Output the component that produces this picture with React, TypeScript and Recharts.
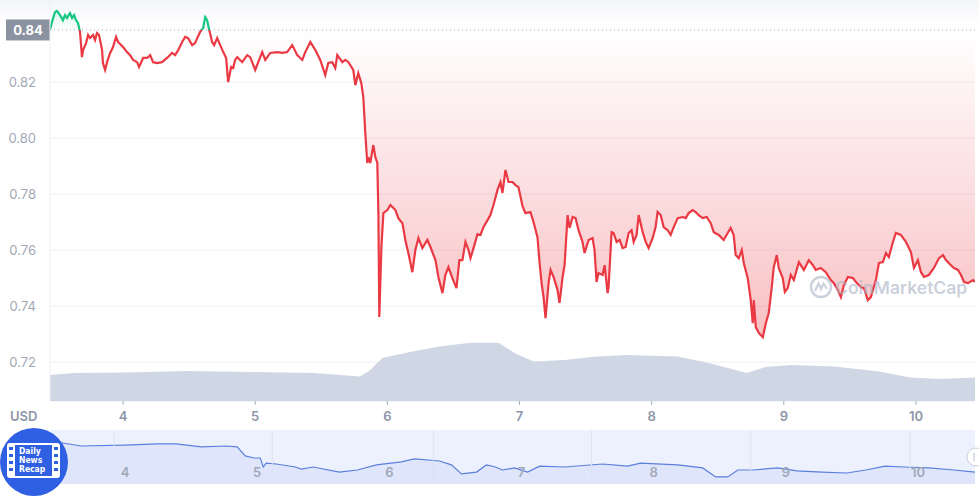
import React from 'react';
import { ComposedChart, Area, XAxis, YAxis, CartesianGrid, ReferenceLine } from 'recharts';

// [day, price USD]
const pricePoints: [number, number][] = [
  [3.447, 0.8386], [3.462, 0.8414], [3.485, 0.845], [3.5, 0.8454], [3.523, 0.8439], [3.545, 0.8421],
  [3.561, 0.8439], [3.576, 0.8429], [3.598, 0.8446], [3.614, 0.8429], [3.629, 0.8439], [3.644, 0.8421],
  [3.659, 0.8411], [3.674, 0.8379], [3.689, 0.8289], [3.697, 0.8314], [3.72, 0.8339], [3.735, 0.8368],
  [3.75, 0.8357], [3.773, 0.8368], [3.788, 0.835], [3.803, 0.8375], [3.818, 0.8368], [3.841, 0.8314],
  [3.848, 0.8268], [3.864, 0.8243], [3.879, 0.8271], [3.902, 0.8304], [3.924, 0.8325], [3.947, 0.8361],
  [3.962, 0.8343], [3.985, 0.8332], [4.0, 0.8325], [4.03, 0.8307], [4.053, 0.8296], [4.076, 0.8279],
  [4.106, 0.8271], [4.121, 0.8254], [4.152, 0.8286], [4.182, 0.8286], [4.205, 0.8296], [4.227, 0.8271],
  [4.258, 0.8268], [4.295, 0.8271], [4.333, 0.8286], [4.371, 0.8304], [4.394, 0.8296], [4.417, 0.8314],
  [4.447, 0.8343], [4.47, 0.8361], [4.492, 0.8357], [4.523, 0.8332], [4.545, 0.8339], [4.561, 0.8357],
  [4.583, 0.8379], [4.606, 0.8393], [4.621, 0.8432], [4.636, 0.8421], [4.652, 0.8386], [4.674, 0.8343],
  [4.689, 0.8332], [4.712, 0.8357], [4.735, 0.8332], [4.758, 0.8307], [4.78, 0.8286], [4.795, 0.82],
  [4.818, 0.8254], [4.833, 0.825], [4.848, 0.8279], [4.864, 0.8289], [4.902, 0.8271], [4.939, 0.8296],
  [4.962, 0.8289], [5.0, 0.8243], [5.038, 0.8289], [5.053, 0.8307], [5.076, 0.8279], [5.114, 0.8304],
  [5.167, 0.8307], [5.205, 0.8304], [5.242, 0.8307], [5.28, 0.8332], [5.318, 0.8296], [5.356, 0.8279],
  [5.379, 0.8307], [5.417, 0.8343], [5.455, 0.8314], [5.492, 0.8279], [5.53, 0.8225], [5.553, 0.8268],
  [5.583, 0.8271], [5.606, 0.825], [5.621, 0.8296], [5.659, 0.8271], [5.682, 0.8279], [5.705, 0.8271],
  [5.742, 0.8243], [5.758, 0.8189], [5.78, 0.8232], [5.803, 0.8196], [5.818, 0.8146], [5.833, 0.8018],
  [5.848, 0.7911], [5.856, 0.7932], [5.871, 0.7911], [5.894, 0.7975], [5.909, 0.7932], [5.924, 0.7911],
  [5.932, 0.7732], [5.939, 0.7361], [5.955, 0.7611], [5.97, 0.7732], [6.0, 0.7743], [6.023, 0.7761],
  [6.061, 0.7743], [6.083, 0.7714], [6.114, 0.7696], [6.136, 0.7636], [6.159, 0.7589], [6.189, 0.7521],
  [6.212, 0.76], [6.235, 0.7643], [6.265, 0.7607], [6.303, 0.7636], [6.326, 0.7611], [6.364, 0.7564],
  [6.386, 0.7504], [6.417, 0.7446], [6.439, 0.7511], [6.462, 0.7539], [6.492, 0.75], [6.523, 0.7464],
  [6.545, 0.7564], [6.568, 0.7564], [6.591, 0.7629], [6.614, 0.76], [6.629, 0.7571], [6.652, 0.7607],
  [6.682, 0.7657], [6.705, 0.7654], [6.727, 0.7682], [6.758, 0.7707], [6.78, 0.7725], [6.803, 0.7761],
  [6.833, 0.7814], [6.856, 0.7843], [6.871, 0.7804], [6.894, 0.7886], [6.917, 0.7843], [6.947, 0.7843],
  [6.97, 0.7832], [6.992, 0.7825], [7.023, 0.7757], [7.045, 0.7732], [7.083, 0.7736], [7.106, 0.77],
  [7.136, 0.7646], [7.152, 0.7554], [7.167, 0.7482], [7.182, 0.7432], [7.197, 0.7357], [7.22, 0.7482],
  [7.235, 0.7529], [7.258, 0.7504], [7.288, 0.7457], [7.303, 0.7411], [7.326, 0.7504], [7.341, 0.7546],
  [7.364, 0.7725], [7.379, 0.7679], [7.402, 0.7718], [7.424, 0.7714], [7.447, 0.7671], [7.477, 0.7629],
  [7.492, 0.7589], [7.523, 0.7636], [7.553, 0.7643], [7.568, 0.76], [7.583, 0.7486], [7.598, 0.7518],
  [7.629, 0.7511], [7.644, 0.7546], [7.667, 0.7446], [7.674, 0.7468], [7.697, 0.7664], [7.712, 0.7661],
  [7.735, 0.7629], [7.758, 0.7636], [7.78, 0.7607], [7.803, 0.7611], [7.826, 0.7661], [7.848, 0.7671],
  [7.864, 0.7629], [7.886, 0.7654], [7.902, 0.7725], [7.932, 0.7664], [7.955, 0.7629], [7.977, 0.7607],
  [8.008, 0.7643], [8.03, 0.7682], [8.045, 0.7736], [8.068, 0.7725], [8.091, 0.7682], [8.121, 0.7671],
  [8.144, 0.7654], [8.167, 0.7682], [8.197, 0.7714], [8.235, 0.7718], [8.258, 0.7714], [8.28, 0.7732],
  [8.311, 0.7743], [8.333, 0.7736], [8.356, 0.7725], [8.386, 0.7714], [8.417, 0.7718], [8.447, 0.7696],
  [8.47, 0.7664], [8.508, 0.7654], [8.545, 0.7636], [8.576, 0.7661], [8.598, 0.7679], [8.621, 0.7654],
  [8.636, 0.7582], [8.659, 0.7571], [8.682, 0.76], [8.697, 0.7554], [8.727, 0.75], [8.75, 0.7421],
  [8.765, 0.7339], [8.773, 0.7421], [8.788, 0.7325], [8.811, 0.7304], [8.841, 0.7289], [8.864, 0.7339],
  [8.886, 0.7375], [8.909, 0.7468], [8.924, 0.7539], [8.947, 0.7582], [8.962, 0.7536], [8.992, 0.75],
  [9.008, 0.745], [9.03, 0.7464], [9.053, 0.7511], [9.076, 0.7493], [9.114, 0.7557], [9.152, 0.7529],
  [9.189, 0.7564], [9.22, 0.7546], [9.242, 0.7529], [9.28, 0.7536], [9.318, 0.7521], [9.356, 0.7493],
  [9.379, 0.7482], [9.409, 0.7457], [9.432, 0.7432], [9.455, 0.7475], [9.485, 0.7504], [9.523, 0.75],
  [9.553, 0.7482], [9.583, 0.7468], [9.606, 0.7464], [9.636, 0.7421], [9.659, 0.7432], [9.674, 0.7457],
  [9.697, 0.7493], [9.72, 0.7554], [9.75, 0.7557], [9.773, 0.7589], [9.795, 0.7575], [9.826, 0.7629],
  [9.848, 0.7661], [9.886, 0.7654], [9.924, 0.7629], [9.962, 0.7593], [9.985, 0.7536], [10.015, 0.7564],
  [10.038, 0.7521], [10.061, 0.7504], [10.098, 0.7511], [10.136, 0.7536], [10.174, 0.7571], [10.205, 0.7582],
  [10.227, 0.7564], [10.265, 0.7546], [10.288, 0.7536], [10.318, 0.7529], [10.341, 0.7511], [10.364, 0.7486],
  [10.394, 0.7482], [10.432, 0.7493], [10.447, 0.7486],
];

// [day, volume in billions USD]
const volumePoints: [number, number][] = [
  [3.447, 0.78], [3.636, 0.84], [4.015, 0.85], [4.492, 0.9], [4.97, 0.87], [5.439, 0.84],
  [5.795, 0.73], [5.871, 0.93], [5.962, 1.29], [6.152, 1.45], [6.394, 1.63], [6.629, 1.74],
  [6.841, 1.74], [6.962, 1.44], [7.106, 1.18], [7.341, 1.23], [7.583, 1.33], [7.818, 1.38],
  [8.197, 1.33], [8.432, 1.14], [8.72, 0.84], [8.864, 1.02], [9.053, 1.08], [9.386, 1.03],
  [9.72, 0.88], [9.955, 0.7], [10.189, 0.66], [10.447, 0.7],
];

// navigator overview [day, price]
const navPoints: [number, number][] = [
  [3.447, 0.84], [3.545, 0.84], [3.682, 0.83], [4.015, 0.833], [4.258, 0.837], [4.402, 0.837],
  [4.591, 0.827], [4.78, 0.83], [4.864, 0.827], [4.924, 0.797], [4.992, 0.79], [5.038, 0.79],
  [5.061, 0.76], [5.083, 0.773], [5.159, 0.77], [5.303, 0.76], [5.348, 0.753], [5.439, 0.76],
  [5.636, 0.743], [5.773, 0.75], [5.917, 0.767], [6.106, 0.777], [6.205, 0.787], [6.394, 0.78],
  [6.485, 0.767], [6.561, 0.737], [6.674, 0.743], [6.75, 0.767], [6.818, 0.76], [6.871, 0.75],
  [6.962, 0.757], [7.061, 0.743], [7.152, 0.763], [7.341, 0.76], [7.629, 0.77], [7.818, 0.763],
  [7.917, 0.773], [8.197, 0.767], [8.386, 0.757], [8.485, 0.727], [8.576, 0.727], [8.652, 0.75],
  [8.765, 0.75], [8.955, 0.757], [9.098, 0.747], [9.288, 0.743], [9.477, 0.74], [9.621, 0.75],
  [9.765, 0.763], [9.909, 0.76], [10.098, 0.757], [10.288, 0.75], [10.447, 0.743],
];

const openPrice = 0.8386;
const dayTicks = [4, 5, 6, 7, 8, 9, 10];
const priceTicks = [0.72, 0.74, 0.76, 0.78, 0.8, 0.82];
const navGridDays = [3.932, 5.129, 6.348, 7.545, 8.75, 9.955];

const priceData = pricePoints.map(([t, p]) => ({ t, p }));
const volumeData = volumePoints.map(([t, v]) => ({ t, v }));
const navData = navPoints.map(([t, p]) => ({ t, p }));

const pMax = Math.max(...pricePoints.map((d) => d[1]));
const pMin = Math.min(...pricePoints.map((d) => d[1]));
const splitOff = (pMax - openPrice) / (pMax - pMin);

const FONT = 'Inter, "Noto Sans", sans-serif';

const PriceTag = (props: any) => {
  const vb = props.viewBox || {};
  const y = vb.y ?? 0;
  return (
    <g>
      <rect x={6} y={y - 10.5} width={44} height={21} fill="#8b93a1" />
      <text x={28} y={y + 5} textAnchor="middle" fill="#ffffff" fontSize={13} fontWeight={700} fontFamily={FONT}>
        {openPrice.toFixed(2)}
      </text>
    </g>
  );
};

const renderNavTick = (props: any) => {
  const { x, payload } = props;
  return (
    <text x={x + 2} y={47} textAnchor="middle" fill="#a0a8b8" fontSize={13} fontWeight={600} fontFamily={FONT}>
      {String(payload.value)}
    </text>
  );
};

export default function App() {
  return (
    <div style={{ position: 'absolute', left: 0, top: 0, width: 979, height: 496, background: '#fff', overflow: 'hidden', fontFamily: FONT }}>
      <div style={{ position: 'absolute', left: 0, top: 0, width: 979, height: 24, background: 'linear-gradient(#f3f5f9, #ffffff)' }} />
      <div style={{ position: 'absolute', left: 0, top: 0 }}>
        <ComposedChart width={979} height={430} margin={{ top: 0, right: 4, bottom: 0, left: 0 }}>
          <defs>
            <linearGradient id="lineGrad" x1="0" y1="0" x2="0" y2="1">
              <stop offset={splitOff} stopColor="#16c784" />
              <stop offset={splitOff} stopColor="#ea3943" />
            </linearGradient>
            <linearGradient id="fillGrad" x1="0" y1="0" x2="0" y2="1">
              <stop offset={0} stopColor="#16c784" stopOpacity={0.12} />
              <stop offset={splitOff} stopColor="#16c784" stopOpacity={0.02} />
              <stop offset={splitOff} stopColor="#ea3943" stopOpacity={0.0} />
              <stop offset={1} stopColor="#ea3943" stopOpacity={0.32} />
            </linearGradient>
          </defs>
          <CartesianGrid horizontal vertical={false} stroke="#eef0f4" />
          <XAxis
            type="number"
            dataKey="t"
            domain={[3.447, 10.447]}
            ticks={dayTicks}
            allowDataOverflow
            height={29}
            axisLine={false}
            tickSize={4}
            tickLine={{ stroke: '#a6afc0' }}
            tickMargin={7}
            tick={{ fontSize: 13, fontWeight: 600, fill: '#8d96a8', fontFamily: FONT }}
          />
          <YAxis
            width={50}
            domain={[0.7061, 0.8493]}
            ticks={priceTicks}
            allowDataOverflow
            tickFormatter={(v: number) => v.toFixed(2)}
            axisLine={{ stroke: '#eef0f4' }}
            tickLine={false}
            tickMargin={8}
            tick={{ fontSize: 13, fill: '#a2a9b6', fontFamily: FONT }}
          />
          <YAxis yAxisId="vol" hide domain={[0, 12]} />
          <Area
            yAxisId="vol"
            data={volumeData}
            dataKey="v"
            type="linear"
            stroke="none"
            fill="#cfd6e4"
            fillOpacity={1}
            isAnimationActive={false}
            dot={false}
            activeDot={false}
          />
          <Area
            data={priceData}
            dataKey="p"
            type="linear"
            baseValue={openPrice}
            stroke="url(#lineGrad)"
            strokeWidth={2.2}
            fill="url(#fillGrad)"
            fillOpacity={1}
            isAnimationActive={false}
            dot={false}
            activeDot={false}
          />
          <ReferenceLine y={openPrice} stroke="#a3a9b5" strokeDasharray="1 3" label={<PriceTag />} />
        </ComposedChart>
      </div>
      <div style={{ position: 'absolute', left: 10, top: 408, fontSize: 13, fontWeight: 600, color: '#8d96a8', fontFamily: FONT }}>USD</div>
      <div style={{ position: 'absolute', left: 0, top: 430 }}>
        <ComposedChart width={979} height={54} margin={{ top: 0, right: 4, bottom: 0, left: 50 }}>
          <CartesianGrid horizontal={false} vertical={false} fill="#edf1fd" />
          {navGridDays.map((d) => (
            <ReferenceLine key={d} x={d} stroke="#dde3f3" />
          ))}
          <YAxis hide domain={[0.7033, 0.8833]} allowDataOverflow />
          <XAxis type="number" dataKey="t" domain={[3.447, 10.447]} allowDataOverflow hide />
          <Area
            data={navData}
            dataKey="p"
            type="linear"
            stroke="#5b7fdc"
            strokeWidth={1.2}
            fill="#dfe6fb"
            fillOpacity={1}
            isAnimationActive={false}
            dot={false}
            activeDot={false}
          />
        </ComposedChart>
      </div>
      <div style={{ position: 'absolute', left: 0, top: 430, pointerEvents: 'none' }}>
        <ComposedChart width={979} height={74} margin={{ top: 0, right: 4, bottom: 0, left: 50 }}>
          <YAxis hide domain={[0.7033, 0.8833]} allowDataOverflow />
          <Area
            data={navData}
            dataKey="p"
            type="linear"
            stroke="none"
            fill="none"
            isAnimationActive={false}
            dot={false}
            activeDot={false}
          />
          <XAxis
            type="number"
            dataKey="t"
            domain={[3.447, 10.447]}
            ticks={dayTicks}
            allowDataOverflow
            height={20}
            axisLine={false}
            tickLine={false}
            tick={renderNavTick}
          />
        </ComposedChart>
      </div>
      <svg width={20} height={30} style={{ position: 'absolute', left: 966, top: 443 }}>
        <circle cx={10} cy={14} r={9} fill="#ffffff" stroke="#c9cfdc" strokeWidth={1} />
        <line x1={8} y1={10} x2={8} y2={18} stroke="#b7bfcf" />
      </svg>
      <div style={{ position: 'absolute', left: 809, top: 275, display: 'flex', alignItems: 'center', opacity: 0.6, pointerEvents: 'none' }}>
        <svg width={24} height={24}>
          <circle cx={12} cy={12} r={10} fill="none" stroke="#aab3c5" strokeWidth={2.3} />
          <path d="M6 16 L9.5 8.5 L12 14 L14.5 8.5 L18 14" fill="none" stroke="#aab3c5" strokeWidth={2} />
        </svg>
        <span style={{ fontSize: 17.5, fontWeight: 600, color: '#aab3c5', marginLeft: 2, fontFamily: FONT, whiteSpace: 'nowrap' }}>CoinMarketCap</span>
      </div>
      <svg width={68} height={68} style={{ position: 'absolute', left: 0, top: 428 }}>
        <circle cx={34} cy={34} r={34} fill="#2f5fe3" />
        <rect x={7} y={15} width={53} height={35} rx={3} fill="#ffffff" />
        <rect x={15} y={17} width={37} height={31} fill="#2f5fe3" />
        {[19, 26, 33, 40].map((yy) => (
          <g key={yy}>
            <rect x={9} y={yy} width={4} height={3} fill="#2f5fe3" />
            <rect x={54} y={yy} width={4} height={3} fill="#2f5fe3" />
          </g>
        ))}
        <text x={19} y={26} fill="#fff" fontSize={8.5} fontWeight={700} fontFamily="'Liberation Sans Narrow', 'DejaVu Sans Condensed', sans-serif">Daily</text>
        <text x={19} y={35} fill="#fff" fontSize={8.5} fontWeight={700} fontFamily="'Liberation Sans Narrow', 'DejaVu Sans Condensed', sans-serif">News</text>
        <text x={19} y={44} fill="#fff" fontSize={8.5} fontWeight={700} fontFamily="'Liberation Sans Narrow', 'DejaVu Sans Condensed', sans-serif">Recap</text>
      </svg>
    </div>
  );
}
